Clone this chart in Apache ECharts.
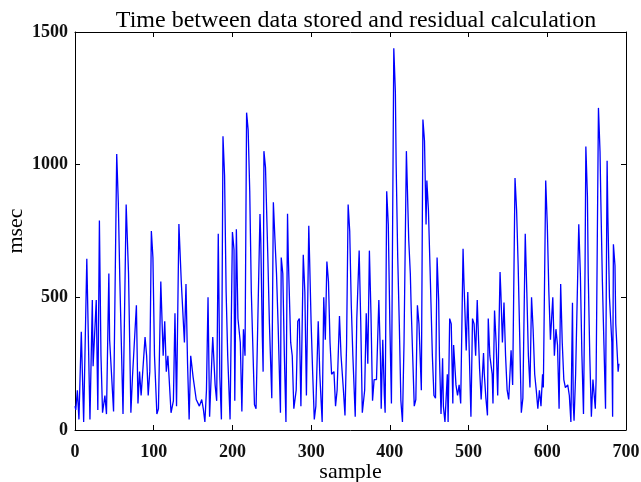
<!DOCTYPE html>
<html>
<head>
<meta charset="utf-8">
<script src="https://cdn.jsdelivr.net/npm/echarts@6/dist/echarts.min.js"></script>
<style>
html,body{margin:0;padding:0;background:#fff;}
#chart{width:641px;height:482px;}
</style>
</head>
<body>
<div id="chart"></div>
<script>
const titleText = 'Time between data stored and residual calculation';
const xLabel = 'sample';
const yLabel = 'msec';
const xTicks = [0, 100, 200, 300, 400, 500, 600, 700];
const yTicks = [0, 500, 1000, 1500];

const samples = [0,1,3,5,8,11,15,19,22,23,27,29,31,33,35,38,40,43,44,49,53,55,57,61,65,68,71,73,78,80,82,84,89,91,93,95,97,99,101,104,106,109,112,114,116,118,122,125,127,129,132,135,139,141,143,145,147,150,154,158,161,163,165,167,169,171,174,175,178,180,182,184,186,188,190,192,194,197,200,202,203,205,207,210,212,214,216,218,220,222,224,228,230,235,236,238,239,240,242,245,247,250,252,254,256,258,261,262,264,266,268,270,271,274,276,278,281,283,285,287,290,292,294,297,298,300,302,304,306,309,311,313,314,316,318,320,322,324,326,329,331,333,336,338,341,343,345,347,349,351,353,356,358,361,363,365,368,370,372,374,376,378,380,383,386,388,389,391,393,394,396,398,400,402,405,407,408,410,412,414,416,418,421,422,424,426,427,429,431,433,435,437,440,442,444,446,447,449,451,454,456,458,460,462,463,465,467,468,470,473,474,476,478,480,481,483,484,486,488,490,493,494,497,499,501,503,505,507,509,511,512,514,516,519,520,522,524,525,527,530,531,533,535,537,540,541,543,545,547,549,551,554,556,559,561,563,565,567,569,572,574,576,578,580,582,584,586,588,590,592,594,595,598,600,602,604,607,609,611,613,615,617,619,621,623,626,628,630,632,633,634,636,640,642,644,646,648,649,651,652,654,656,658,661,662,665,667,668,670,672,674,676,677,679,682,683,684,686,687,689,690,691];

const msec = [90,76,150,40,370,30,645,40,490,240,490,75,790,280,65,130,60,590,340,70,1040,860,560,60,850,590,65,200,470,100,220,130,350,280,130,220,750,650,280,60,80,560,280,410,220,280,65,110,440,90,776,560,330,550,250,40,280,200,115,90,115,80,30,150,500,50,280,350,170,110,740,200,40,1107,960,520,280,40,746,680,110,757,420,330,70,380,280,1196,1130,900,520,95,80,814,720,350,220,1051,990,650,400,120,858,720,590,400,65,650,590,280,30,815,650,330,280,80,150,410,420,90,660,520,130,770,650,400,210,40,90,410,210,90,30,500,340,635,560,330,210,220,90,150,430,280,150,55,320,850,750,470,280,50,420,676,410,65,150,440,250,676,440,110,190,190,490,280,80,340,130,65,900,775,400,100,1439,1275,1000,650,400,110,30,330,1051,940,715,590,470,280,90,115,470,400,150,1170,1090,775,940,830,615,280,130,120,650,490,280,60,270,90,30,210,30,420,400,100,320,220,170,130,170,100,683,570,300,520,280,50,420,400,280,490,400,230,115,290,210,120,55,420,280,210,100,450,330,130,595,520,330,480,280,150,115,300,170,950,830,620,350,65,120,740,520,280,160,500,380,210,150,80,150,90,210,160,940,775,520,340,500,280,380,320,80,550,330,190,160,170,130,30,480,100,35,210,775,590,280,60,620,1068,880,590,280,50,190,80,190,1214,1050,870,560,320,80,1015,800,500,330,50,700,620,400,280,220,250];

const seriesData = samples.map((s, i) => [s, msec[i]]);

const serif = 'Liberation Serif, DejaVu Serif, serif';
const chart = echarts.init(document.getElementById('chart'), null, {renderer: 'canvas'});

const axisCommon = {
  axisLine: {show: true, onZero: false, lineStyle: {color: '#000', width: 1}},
  axisTick: {show: true, inside: true, length: 5, lineStyle: {color: '#000'}},
  splitLine: {show: false}
};
const plain = v => String(v);

chart.setOption({
  animation: false,
  backgroundColor: '#fff',
  title: {
    text: titleText,
    left: 351,
    top: 4,
    textAlign: 'center',
    textStyle: {fontFamily: serif, fontSize: 24, fontWeight: 'normal', color: '#000'}
  },
  grid: {left: 75, right: 15, top: 32, bottom: 52, show: false, outerBoundsMode: 'none', containLabel: false},
  xAxis: [
    Object.assign({}, axisCommon, {
      type: 'value', min: xTicks[0], max: xTicks[xTicks.length - 1], interval: 100,
      position: 'bottom',
      name: xLabel, nameLocation: 'middle', nameGap: 31, nameMoveOverlap: false,
      nameTextStyle: {fontFamily: serif, fontSize: 22, fontWeight: 'normal', color: '#000'},
      axisLabel: {fontFamily: serif, fontSize: 18, fontWeight: 'bold', color: '#111', margin: 13, formatter: plain}
    }),
    Object.assign({}, axisCommon, {
      type: 'value', min: xTicks[0], max: xTicks[xTicks.length - 1], interval: 100,
      position: 'top', axisLabel: {show: false}
    })
  ],
  yAxis: [
    Object.assign({}, axisCommon, {
      type: 'value', min: yTicks[0], max: yTicks[yTicks.length - 1], interval: 500,
      position: 'left',
      name: yLabel, nameLocation: 'middle', nameGap: 48, nameRotate: 90, nameMoveOverlap: false,
      nameTextStyle: {fontFamily: serif, fontSize: 22, fontWeight: 'normal', color: '#000'},
      axisLabel: {fontFamily: serif, fontSize: 18, fontWeight: 'bold', color: '#111', margin: 7, formatter: plain}
    }),
    Object.assign({}, axisCommon, {
      type: 'value', min: yTicks[0], max: yTicks[yTicks.length - 1], interval: 500,
      position: 'right', axisLabel: {show: false}
    })
  ],
  series: [{
    type: 'line',
    data: seriesData,
    xAxisIndex: 0,
    yAxisIndex: 0,
    showSymbol: false,
    symbol: 'none',
    lineStyle: {color: '#0000ff', width: 1.3},
    itemStyle: {color: '#0000ff'}
  }, {
    type: 'line',
    data: [],
    xAxisIndex: 1,
    yAxisIndex: 1,
    symbol: 'none'
  }]
});
</script>
</body>
</html>
